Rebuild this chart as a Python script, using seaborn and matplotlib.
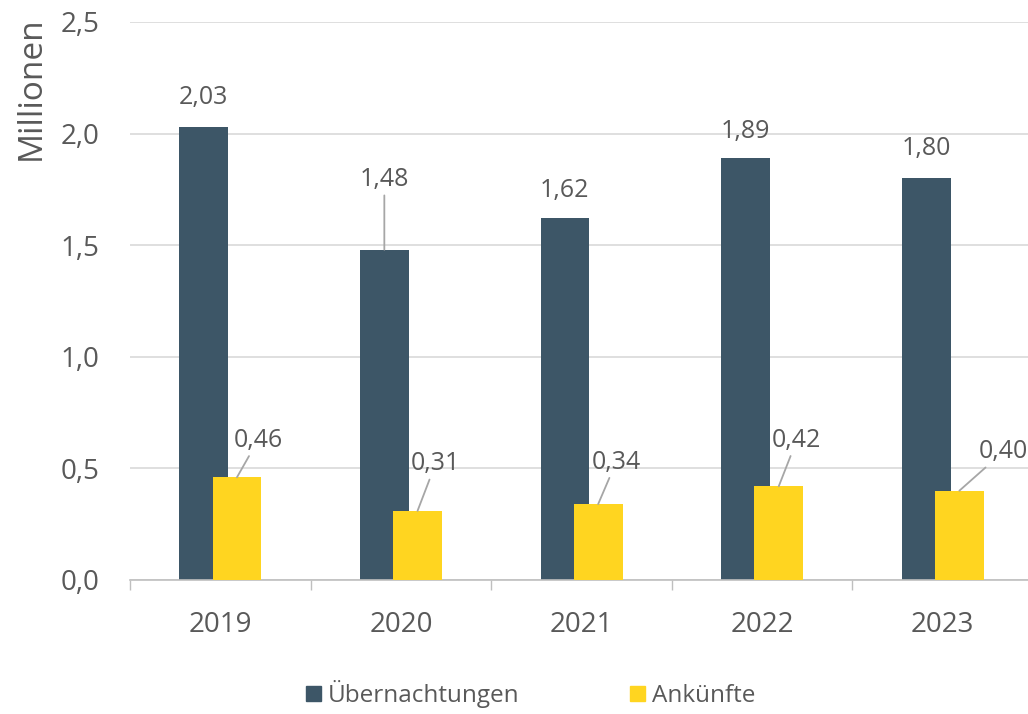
import numpy as np
import pandas as pd
import matplotlib.pyplot as plt
import seaborn as sns
from matplotlib.ticker import FuncFormatter, FixedLocator
from matplotlib.patches import Patch

# data
jahre = ["2019", "2020", "2021", "2022", "2023"]
uebernachtungen = [2.03, 1.48, 1.62, 1.89, 1.80]
ankuenfte = [0.46, 0.31, 0.34, 0.42, 0.40]

dunkel = "#3D5667"
gelb = "#FFD520"
grau_text = "#595959"

sns.set_style("white")
plt.rcParams['font.family'] = ['Open Sans', 'DejaVu Sans']

pos = np.arange(len(jahre))
shift = 0.092
bw = 0.27

fig = plt.figure(figsize=(10.28, 7.14), dpi=100)
ax = fig.add_axes([0.1265, 0.1877, 0.8735, 0.7815])

df_u = pd.DataFrame({"x": pos - shift, "wert": uebernachtungen})
df_a = pd.DataFrame({"x": pos + shift, "wert": ankuenfte})
sns.barplot(data=df_u, x="x", y="wert", native_scale=True, width=bw, orient="x",
            color=dunkel, saturation=1, linewidth=0, ax=ax, zorder=2)
sns.barplot(data=df_a, x="x", y="wert", native_scale=True, width=bw, orient="x",
            color=gelb, saturation=1, linewidth=0, ax=ax, zorder=3)

ax.set_ylim(0, 2.5)
ax.set_xlim(-0.5, 4.472)
ax.set_yticks(np.arange(0, 2.51, 0.5))
ax.yaxis.set_major_formatter(FuncFormatter(lambda v, p: f"{v:.1f}".replace(".", ",")))
ax.set_xticks(pos)
ax.set_xticklabels(jahre)
ax.xaxis.set_minor_locator(FixedLocator(np.arange(-0.5, 5, 1)))
ax.tick_params(axis="x", which="major", length=0, pad=22, labelsize=20, labelcolor=grau_text)
ax.tick_params(axis="x", which="minor", length=7, width=1, color="#bfbfbf", bottom=True)
ax.tick_params(axis="y", length=0, pad=22, labelsize=20, labelcolor=grau_text)
ax.set_xlabel("")
ax.set_ylabel("Millionen", fontsize=24, color=grau_text)
ax.yaxis.set_label_coords(-0.0915, 0.882)

ax.grid(axis="y", color="#d9d9d9", lw=1.2, zorder=0)
ax.set_axisbelow(True)
for s in ["top", "right", "left"]:
    ax.spines[s].set_visible(False)
ax.spines["bottom"].set_color("#bfbfbf")
ax.spines["bottom"].set_linewidth(1.2)

# Datenbeschriftungen (Versatz in Pixeln: dx, dy)
off_u = [(0, 29), (0, 70), (0, 28), (0, 27), (0, 30)]
off_a = [(21, 37), (18, 47), (18, 42), (18, 46), (44, 39)]
linie = dict(arrowstyle="-", color="#a6a6a6", lw=1.3, shrinkA=0, shrinkB=0)

for i in range(len(jahre)):
    dx, dy = off_u[i]
    ap = linie if dy > 40 else None
    ax.annotate(f"{uebernachtungen[i]:.2f}".replace(".", ","),
                xy=(pos[i] - shift, uebernachtungen[i]),
                xytext=(dx * 0.72, dy * 0.72), textcoords="offset points",
                ha="center", va="center", fontsize=18, color=grau_text,
                arrowprops=ap, annotation_clip=False)
    dx, dy = off_a[i]
    ax.annotate(f"{ankuenfte[i]:.2f}".replace(".", ","),
                xy=(pos[i] + shift, ankuenfte[i]),
                xytext=(dx * 0.72, dy * 0.72), textcoords="offset points",
                ha="center", va="center", fontsize=18, color=grau_text,
                arrowprops=linie, annotation_clip=False)

handles = [Patch(color=dunkel), Patch(color=gelb)]
fig.legend(handles, ["Übernachtungen", "Ankünfte"], loc="center",
           bbox_to_anchor=(0.5165, 0.028), ncol=2, frameon=False,
           fontsize=17.5, labelcolor=grau_text, handlelength=0.6, handleheight=0.6,
           handletextpad=0.3, columnspacing=4.55)

fig.savefig("out.png", dpi=100)
